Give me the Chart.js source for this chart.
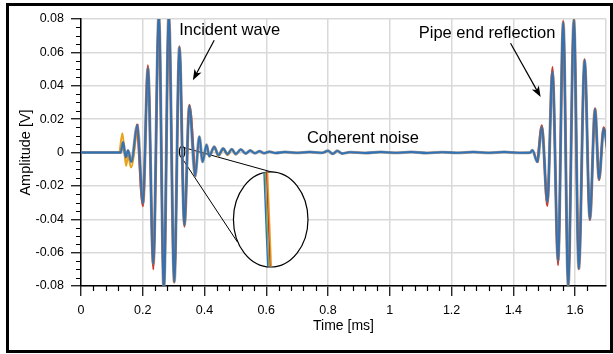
<!DOCTYPE html>
<html>
<head>
<meta charset="utf-8">
<script src="https://cdn.jsdelivr.net/npm/chart.js@4.4.1/dist/chart.umd.min.js"></script>
<style>
  body { margin: 0; background: #fff; }
  #cadre { position: absolute; left: 6px; top: 3px; width: 601px; height: 344px; border: 3px solid #000; }
  canvas { position: absolute; left: 0; top: 0; }
</style>
</head>
<body>
<div id="cadre"></div>
<canvas id="graphique" width="613" height="354"></canvas>
<script>
// Temps (ms) et amplitude (V)
const tempsMs = [
  0, 0.1290, 0.1362, 0.1449, 0.1523, 0.1630, 0.1823, 0.2006, 0.2167, 0.2341,
  0.2521, 0.2682, 0.2843, 0.3020, 0.3187, 0.3348, 0.3509, 0.3696, 0.3831, 0.3937,
  0.4066, 0.4153, 0.4314, 0.4450, 0.4604, 0.4743, 0.4883, 0.5010, 0.5174, 0.5335,
  0.5480, 0.5630, 0.5780, 0.5930, 0.6100, 0.6300, 0.6600, 0.7000, 0.7400, 0.7800,
  0.8000, 0.8150, 0.8300, 0.8450, 0.8700, 0.9200, 0.9700, 1.0200, 1.0700, 1.1200,
  1.1700, 1.2200, 1.2700, 1.3200, 1.3700, 1.4200, 1.4550, 1.4617, 1.4778, 1.4923,
  1.5100, 1.5267, 1.5448, 1.5615, 1.5776, 1.5960, 1.6120, 1.6307, 1.6478, 1.6645,
  1.6774, 1.6925, 1.7090
];
const traceBleue = [
  0, 0, 0.0062, -0.0028, 0.0012, -0.0056, 0.0164, -0.0305, 0.0505, -0.0665,
  0.0830, -0.0830, 0.0830, -0.0775, 0.0630, -0.0435, 0.0280, -0.0140, 0.0095, -0.0056,
  0.0046, -0.0022, 0.0034, -0.0016, 0.0024, -0.0010, 0.0020, -0.0010, 0.0018, -0.0006,
  0.0012, -0.0004, 0.0008, -0.0004, 0.0005, -0.0003, 0.0003, -0.0002, 0.0003, -0.0002,
  0.0010, -0.0008, 0.0010, -0.0006, 0.0002, -0.0003, 0.0003, -0.0002, 0.0003, -0.0003,
  0.0002, -0.0002, 0.0003, -0.0002, 0.0003, -0.0002, 0, 0.0014, -0.0056, 0.0153,
  -0.0296, 0.0483, -0.0646, 0.0778, -0.0800, 0.0793, -0.0695, 0.0553, -0.0400, 0.0260,
  -0.0160, 0.0144, -0.0060
];

// traces rouges (pointes qui dépassent)
const tempsRougeIncident = [0.1823, 0.2006, 0.2167, 0.2341, 0.2521, 0.2682, 0.2843, 0.3020, 0.3187, 0.3348, 0.3509, 0.3696];
const traceRougeIncident = [0.0172, -0.0322, 0.0522, -0.0700, 0.0830, -0.0830, 0.0830, -0.0780, 0.0636, -0.0445, 0.0286, -0.0145];
const tempsRougeReflexion = [1.4778, 1.4923, 1.5100, 1.5267, 1.5448, 1.5615, 1.5776, 1.5960, 1.6120, 1.6307, 1.6478, 1.6645, 1.6774, 1.6925, 1.7090];
const traceRougeReflexion = [-0.0060, 0.0162, -0.0320, 0.0512, -0.0675, 0.0790, -0.0800, 0.0800, -0.0700, 0.0560, -0.0405, 0.0265, -0.0165, 0.0150, -0.0060];

// traces orange (début et queue)
const tempsOrangeDebut = [0.1250, 0.1340, 0.1460, 0.1523, 0.1620, 0.1823];
const traceOrangeDebut = [0, 0.0115, -0.0080, -0.0020, -0.0090, 0.0160];
const tempsOrangeQueue = [0.4153, 0.4314, 0.4450, 0.4604, 0.4743, 0.4883, 0.5010];
const traceOrangeQueue = [-0.0028, 0.0030, -0.0022, 0.0020, -0.0016, 0.0016, -0.0012];

// vue agrandie dans l'ellipse
const loupeTemps = {
  bleu: [0.5924, 0.6043],
  vert: [0.5964, 0.6083],
  rouge: [0.6004, 0.6123],
  orange: [0.6044, 0.6163]
};
const loupeAmplitude = [-0.0118, -0.0682];

// graduations
const pasMineurX = 0.04, pasMajeurX = 0.2;
const pasMineurY = 0.005, pasMajeurY = 0.02;

// annotations (en unités du graphique)
const annotations = {
  textes: [
    { texte: "Incident wave", t: 0.4813, v: 0.0729 },
    { texte: "Pipe end reflection", t: 1.315, v: 0.0715 },
    { texte: "Coherent noise", t: 0.9128, v: 0.0086 }
  ],
  fleches: [
    { de: [0.4314, 0.0673], a: [0.3622, 0.0433] },
    { de: [1.3909, 0.0655], a: [1.4884, 0.0332] }
  ],
  ellipses: [
    { t: 0.3274, v: 0.0004, rt: 0.0087, rv: 0.0033, remplir: false },
    { t: 0.6143, v: -0.0401, rt: 0.1207, rv: 0.0285, remplir: true }
  ],
  traits: [
    { de: [0.3242, 0.0034], a: [0.6352, -0.0126] },
    { de: [0.3242, -0.0026], a: [0.5064, -0.0536] }
  ]
};

function estMultiple(v, pas) {
  return Math.abs(v / pas - Math.round(v / pas)) < 1e-6;
}

function points(xs, ys) {
  return xs.map((x, i) => ({ x: x, y: ys[i] }));
}

const police = "'Liberation Sans', Arial, sans-serif";

const pluginDecor = {
  id: "decor",
  beforeDatasetsDraw(chart) {
    const ctx = chart.ctx;
    const sx = chart.scales.x, sy = chart.scales.y;
    ctx.save();
    ctx.strokeStyle = "#000";
    ctx.lineWidth = 1;
    for (const t of annotations.traits) {
      ctx.beginPath();
      ctx.moveTo(sx.getPixelForValue(t.de[0]), sy.getPixelForValue(t.de[1]));
      ctx.lineTo(sx.getPixelForValue(t.a[0]), sy.getPixelForValue(t.a[1]));
      ctx.stroke();
    }
    for (const e of annotations.ellipses) {
      const cx = sx.getPixelForValue(e.t), cy = sy.getPixelForValue(e.v);
      const rx = Math.abs(sx.getPixelForValue(e.t + e.rt) - cx);
      const ry = Math.abs(sy.getPixelForValue(e.v + e.rv) - cy);
      ctx.beginPath();
      ctx.ellipse(cx, cy, rx, ry, 0, 0, Math.PI * 2);
      if (e.remplir) {
        ctx.fillStyle = "#fff";
        ctx.fill();
      }
      ctx.lineWidth = 1.2;
      ctx.stroke();
    }
    ctx.restore();
  },
  afterDraw(chart) {
    const ctx = chart.ctx;
    const sx = chart.scales.x, sy = chart.scales.y;
    ctx.save();
    // petites graduations
    ctx.strokeStyle = "#000";
    ctx.lineWidth = 1.2;
    ctx.beginPath();
    for (const tick of sx.ticks) {
      if (estMultiple(tick.value, pasMineurX) && !estMultiple(tick.value, pasMajeurX)) {
        const px = Math.round(sx.getPixelForValue(tick.value)) + 0.5;
        ctx.moveTo(px, sy.bottom);
        ctx.lineTo(px, sy.bottom + 5);
      }
    }
    for (const tick of sy.ticks) {
      if (!estMultiple(tick.value, pasMajeurY)) {
        const py = Math.round(sy.getPixelForValue(tick.value)) + 0.5;
        ctx.moveTo(sx.left, py);
        ctx.lineTo(sx.left - 5, py);
      }
    }
    ctx.stroke();

    // textes
    ctx.fillStyle = "#000";
    ctx.font = "16.5px " + police;
    ctx.textAlign = "center";
    ctx.textBaseline = "middle";
    for (const a of annotations.textes) {
      ctx.fillText(a.texte, sx.getPixelForValue(a.t), sy.getPixelForValue(a.v));
    }

    // flèches
    for (const f of annotations.fleches) {
      const x1 = sx.getPixelForValue(f.de[0]), y1 = sy.getPixelForValue(f.de[1]);
      const x2 = sx.getPixelForValue(f.a[0]), y2 = sy.getPixelForValue(f.a[1]);
      const ang = Math.atan2(y2 - y1, x2 - x1);
      ctx.lineWidth = 1.2;
      ctx.beginPath();
      ctx.moveTo(x1, y1);
      ctx.lineTo(x2 - 6 * Math.cos(ang), y2 - 6 * Math.sin(ang));
      ctx.stroke();
      ctx.beginPath();
      ctx.moveTo(x2, y2);
      ctx.lineTo(x2 - 11 * Math.cos(ang) + 4 * Math.sin(ang), y2 - 11 * Math.sin(ang) - 4 * Math.cos(ang));
      ctx.lineTo(x2 - 8 * Math.cos(ang), y2 - 8 * Math.sin(ang));
      ctx.lineTo(x2 - 11 * Math.cos(ang) - 4 * Math.sin(ang), y2 - 11 * Math.sin(ang) + 4 * Math.cos(ang));
      ctx.closePath();
      ctx.fill();
    }
    ctx.restore();
  }
};

const styleTrace = (couleur, epaisseur) => ({
  borderColor: couleur,
  borderWidth: epaisseur,
  pointRadius: 0,
  fill: false,
  cubicInterpolationMode: "monotone"
});

const datasets = [
  { label: "bleu", data: points(tempsMs, traceBleue), ...styleTrace("#2f72b6", 1.8) },
  { label: "ombre", data: points(tempsMs, traceBleue), ...styleTrace("rgba(130,118,108,0.75)", 3.0) },
  { label: "rouge 1", data: points(tempsRougeIncident, traceRougeIncident), ...styleTrace("#c8392e", 2.2) },
  { label: "rouge 2", data: points(tempsRougeReflexion, traceRougeReflexion), ...styleTrace("#c8392e", 2.2) },
  { label: "orange 1", data: points(tempsOrangeDebut, traceOrangeDebut), ...styleTrace("#e8a21c", 2.0) },
  { label: "orange 2", data: points(tempsOrangeQueue, traceOrangeQueue), ...styleTrace("#e8a21c", 2.0) },
  { label: "loupe bleu", data: points(loupeTemps.bleu, loupeAmplitude), ...styleTrace("#2f72b6", 1.4) },
  { label: "loupe vert", data: points(loupeTemps.vert, loupeAmplitude), ...styleTrace("#7fae3a", 1.4) },
  { label: "loupe rouge", data: points(loupeTemps.rouge, loupeAmplitude), ...styleTrace("#c8392e", 1.4) },
  { label: "loupe orange", data: points(loupeTemps.orange, loupeAmplitude), ...styleTrace("#e8a21c", 1.4) }
];

const config = {
  type: "line",
  data: { datasets: datasets },
  options: {
    responsive: false,
    animation: false,
    layout: { padding: { top: 19, right: 4, left: 0, bottom: 0 } },
    plugins: { legend: { display: false }, tooltip: { enabled: false } },
    scales: {
      x: {
        type: "linear",
        min: 0,
        max: 1.7,
        afterFit: (s) => { s.height = 68; },
        ticks: {
          stepSize: pasMineurX,
          autoSkip: false,
          maxRotation: 0,
          padding: 7,
          color: "#000",
          font: { family: police, size: 12.5 },
          callback: (v) => estMultiple(v, pasMajeurX) ? String(Math.round(v * 10) / 10) : ""
        },
        grid: {
          color: (c) => (estMultiple(c.tick.value, pasMajeurX) || c.tick.value === 1.7) ? "#d9d9d9" : "rgba(0,0,0,0)",
          lineWidth: 1.5,
          tickLength: 10,
          tickWidth: 1.2,
          tickColor: (c) => estMultiple(c.tick.value, pasMajeurX) ? "#000" : "rgba(0,0,0,0)"
        },
        border: { color: "#000", width: 1.5 },
        title: {
          display: true,
          text: "Time [ms]",
          color: "#000",
          font: { family: police, size: 14 },
          padding: { top: 0, bottom: 19 }
        }
      },
      y: {
        min: -0.08,
        max: 0.08,
        afterFit: (s) => { s.width = 81; },
        ticks: {
          stepSize: pasMineurY,
          autoSkip: false,
          padding: 7,
          color: "#000",
          font: { family: police, size: 12.5 },
          callback: (v) => estMultiple(v, pasMajeurY) ? String(Math.round(v * 100) / 100) : ""
        },
        grid: {
          color: (c) => estMultiple(c.tick.value, pasMajeurY) ? "#d9d9d9" : "rgba(0,0,0,0)",
          lineWidth: 1.5,
          tickLength: 10,
          tickWidth: 1.2,
          tickColor: (c) => estMultiple(c.tick.value, pasMajeurY) ? "#000" : "rgba(0,0,0,0)"
        },
        border: { color: "#000", width: 1.5 },
        title: {
          display: true,
          text: "Amplitude [V]",
          color: "#000",
          font: { family: police, size: 14.5 },
          padding: { top: 17, bottom: 0 }
        }
      }
    }
  },
  plugins: [pluginDecor]
};

const graphique = new Chart(document.querySelector("#graphique"), config);
</script>
</body>
</html>
